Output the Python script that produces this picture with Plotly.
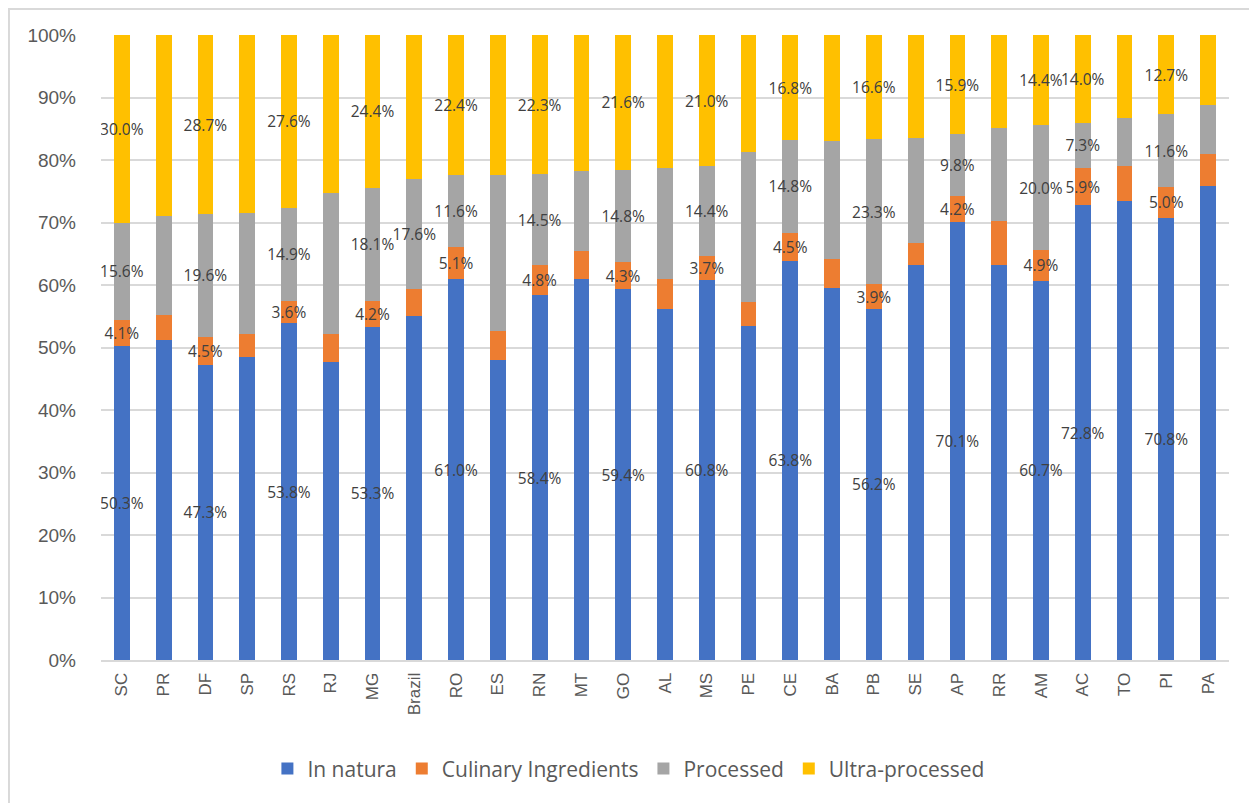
import plotly.graph_objects as go

# Categorias (estados + Brasil)
categorias = ["SC", "PR", "DF", "SP", "RS", "RJ", "MG", "Brazil", "RO", "ES", "RN", "MT", "GO", "AL",
              "MS", "PE", "CE", "BA", "PB", "SE", "AP", "RR", "AM", "AC", "TO", "PI", "PA"]

in_natura = [50.3, 51.2, 47.3, 48.5, 53.8, 47.7, 53.3, 55.1, 61.0, 48.0, 58.4, 61.0, 59.4, 56.2,
             60.8, 53.5, 63.8, 59.6, 56.2, 63.2, 70.1, 63.2, 60.7, 72.8, 73.4, 70.8, 75.9]
culinary = [4.1, 4.0, 4.5, 3.7, 3.6, 4.5, 4.2, 4.2, 5.1, 4.6, 4.8, 4.5, 4.3, 4.8,
            3.7, 3.8, 4.5, 4.5, 3.9, 3.5, 4.2, 7.0, 4.9, 5.9, 5.7, 5.0, 5.1]
processed = [15.6, 15.8, 19.6, 19.3, 14.9, 22.5, 18.1, 17.6, 11.6, 25.0, 14.5, 12.7, 14.8, 17.8,
             14.4, 24.0, 14.8, 18.9, 23.3, 16.9, 9.8, 15.0, 20.0, 7.3, 7.7, 11.6, 7.8]
ultra = [30.0, 29.0, 28.7, 28.5, 27.6, 25.3, 24.4, 23.1, 22.4, 22.4, 22.3, 21.8, 21.6, 21.2,
         21.0, 18.7, 16.8, 17.0, 16.6, 16.4, 15.9, 14.8, 14.4, 14.0, 13.2, 12.7, 11.2]

# Hvilke søyler som har synlige dataetiketter
med_etikett = ["SC", "DF", "RS", "MG", "RO", "RN", "GO", "MS", "CE", "PB", "AP", "AM", "AC", "PI"]
med_etikett_processed = med_etikett + ["Brazil"]

serier = [
    ("In natura", in_natura, "#4472C4", med_etikett),
    ("Culinary Ingredients", culinary, "#ED7D31", med_etikett),
    ("Processed", processed, "#A5A5A5", med_etikett_processed),
    ("Ultra-processed", ultra, "#FFC000", med_etikett),
]

fig = go.Figure()
for navn, verdier, farge, etiketter in serier:
    tekst = [f"{v:.1f}%" if k in etiketter else "" for k, v in zip(categorias, verdier)]
    fig.add_trace(go.Bar(
        x=categorias, y=verdier, name=navn,
        marker=dict(color=farge, line=dict(width=0)),
        text=tekst, textposition="inside", insidetextanchor="middle",
        textangle=0, constraintext="none",
        insidetextfont=dict(color="#404040", size=15.5, family="Open Sans"),
        hoverinfo="x+y+name",
    ))

# siden har 8px marg i body, så alt er flyttet 8px
fig.update_layout(
    barmode="stack",
    barnorm="percent",
    bargap=0.62,
    width=1249, height=795,
    margin=dict(l=93, r=28, t=27, b=143),
    paper_bgcolor="white", plot_bgcolor="white",
    font=dict(family="Open Sans", color="#595959"),
    xaxis=dict(
        tickangle=-90, tickfont=dict(size=17, color="#595959", family="Liberation Sans"),
        showline=True, linecolor="#d9d9d9", linewidth=2,
        ticks="", showgrid=False, ticklabelstandoff=4,
    ),
    yaxis=dict(
        range=[0, 100], dtick=10, ticksuffix="%",
        tickfont=dict(size=19, color="#595959", family="Liberation Sans"),
        showgrid=True, gridcolor="#d9d9d9", gridwidth=1.5,
        zeroline=False, ticks="", ticklabelstandoff=24,
    ),
    legend=dict(
        orientation="h", x=0.468, xanchor="center", y=-0.174, yanchor="middle",
        font=dict(size=21, color="#595959"), traceorder="normal",
    ),
    # ramme rundt hele diagrammet
    shapes=[dict(
        type="rect", xref="paper", yref="paper",
        x0=-0.0816, x1=1.0213, y0=-0.26, y1=1.0416,
        line=dict(color="#d9d9d9", width=2), fillcolor="rgba(0,0,0,0)", layer="below",
    )],
)

fig.write_html("out.html")
